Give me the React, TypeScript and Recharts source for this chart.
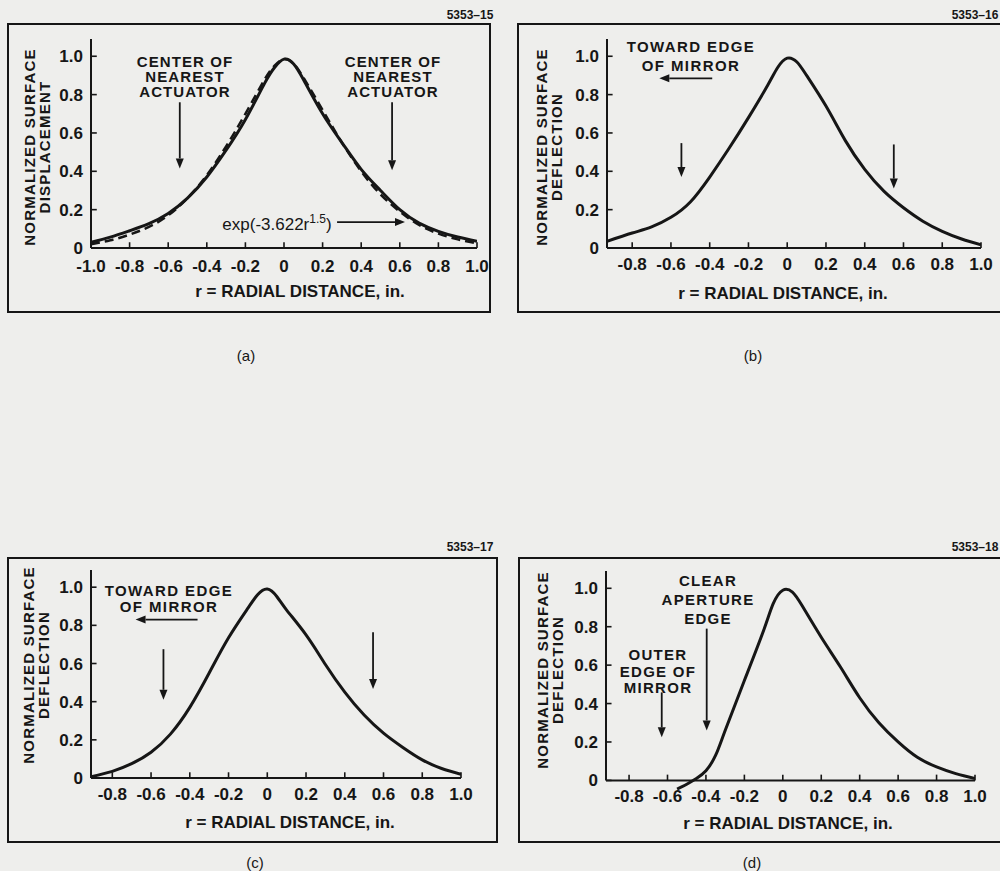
import React from 'react'
import { LineChart, Line, XAxis, YAxis, ReferenceLine } from 'recharts'

const FONT = '"Liberation Sans", Arial, Helvetica, sans-serif'
const INK = '#161616'
const PAPER = '#eeeeec'

// (a) measured influence function vs. exp(-3.622 r^1.5) fit
const rA = [-1.0, -0.9, -0.8, -0.7, -0.6, -0.5, -0.4, -0.3, -0.2, -0.1, -0.05, 0, 0.05, 0.1, 0.2, 0.3, 0.4, 0.5, 0.6, 0.7, 0.8, 0.9, 1.0]
const measuredA = [0.03, 0.057, 0.09, 0.127, 0.18, 0.26, 0.37, 0.51, 0.67, 0.86, 0.94, 0.985, 0.96, 0.88, 0.7, 0.55, 0.41, 0.3, 0.2, 0.13, 0.087, 0.057, 0.035]
const fitA = [0.02, 0.04, 0.07, 0.11, 0.17, 0.26, 0.38, 0.53, 0.7, 0.88, 0.95, 0.985, 0.96, 0.89, 0.72, 0.55, 0.4, 0.28, 0.19, 0.12, 0.075, 0.045, 0.025]

// (b)
const rB = [-0.93, -0.8, -0.7, -0.6, -0.5, -0.4, -0.3, -0.2, -0.1, -0.05, 0, 0.05, 0.1, 0.2, 0.3, 0.4, 0.5, 0.6, 0.7, 0.8, 0.9, 1.0]
const valsB = [0.035, 0.078, 0.11, 0.16, 0.24, 0.37, 0.52, 0.68, 0.85, 0.94, 0.99, 0.97, 0.9, 0.74, 0.56, 0.41, 0.295, 0.21, 0.14, 0.087, 0.047, 0.017]

// (c)
const rC = [-0.91, -0.8, -0.7, -0.6, -0.5, -0.4, -0.3, -0.2, -0.1, -0.05, 0, 0.05, 0.1, 0.2, 0.3, 0.4, 0.5, 0.6, 0.7, 0.8, 0.9, 1.0]
const valsC = [0.007, 0.035, 0.075, 0.135, 0.23, 0.37, 0.55, 0.735, 0.89, 0.96, 0.99, 0.95, 0.88, 0.75, 0.595, 0.45, 0.33, 0.235, 0.16, 0.095, 0.05, 0.02]

// (d)
const rD = [-0.55, -0.5, -0.45, -0.4, -0.35, -0.3, -0.2, -0.1, -0.05, 0, 0.05, 0.1, 0.2, 0.3, 0.4, 0.5, 0.6, 0.7, 0.8, 0.9, 1.0]
const valsD = [-0.045, -0.02, 0.01, 0.05, 0.13, 0.26, 0.52, 0.78, 0.92, 0.99, 0.98, 0.91, 0.745, 0.59, 0.43, 0.3, 0.2, 0.12, 0.07, 0.035, 0.01]

const xTicksFull = [-1.0, -0.8, -0.6, -0.4, -0.2, 0, 0.2, 0.4, 0.6, 0.8, 1.0]
const xTicksEdge = [-0.8, -0.6, -0.4, -0.2, 0, 0.2, 0.4, 0.6, 0.8, 1.0]
const yTicks = [0, 0.2, 0.4, 0.6, 0.8, 1.0]

const dataA = rA.map((r, i) => ({ r, m: measuredA[i], f: fitA[i] }))
const dataB = rB.map((r, i) => ({ r, m: valsB[i] }))
const dataC = rC.map((r, i) => ({ r, m: valsC[i] }))
const dataD = rD.map((r, i) => ({ r, m: valsD[i] }))

const fmt = (v: number) => (v === 0 ? '0' : v.toFixed(1))
const tickStyle = { fill: INK, fontSize: 17, fontWeight: 700, fontFamily: FONT }

type Pt = [number, number]

const ArrowShape = (p: any) => {
  const { x1, y1, x2, y2 } = p
  const ang = Math.atan2(y2 - y1, x2 - x1)
  const L = 10
  const W = 4
  const bx = x2 - L * Math.cos(ang)
  const by = y2 - L * Math.sin(ang)
  const nx = -Math.sin(ang) * W
  const ny = Math.cos(ang) * W
  return (
    <g>
      <line x1={x1} y1={y1} x2={bx} y2={by} stroke={INK} strokeWidth={1.8} />
      <polygon points={`${x2},${y2} ${bx + nx},${by + ny} ${bx - nx},${by - ny}`} fill={INK} />
    </g>
  )
}

function Panel({
  plot,
  xDomain,
  yDomain,
  xTicks,
  data,
  dashed,
  arrows,
  tickGap,
}: {
  plot: { x: number; y: number; w: number; h: number }
  xDomain: [number, number]
  yDomain: [number, number]
  xTicks: number[]
  data: any[]
  dashed?: boolean
  arrows: [Pt, Pt][]
  tickGap: number
}) {
  const yW = 45
  const mt = 10
  const mr = 25
  const xH = 40
  const x0 = xDomain[0]
  const tx = 0.03 * (xDomain[1] - xDomain[0]) / 2
  return (
    <div style={{ position: 'absolute', left: plot.x - yW, top: plot.y - mt }}>
      <LineChart
        width={plot.w + yW + mr}
        height={plot.h + mt + xH}
        data={data}
        margin={{ top: mt, right: mr, bottom: 0, left: 0 }}
      >
        <XAxis
          type="number"
          dataKey="r"
          domain={xDomain}
          ticks={xTicks}
          interval={0}
          allowDataOverflow
          axisLine={false}
          tickLine={false}
          tickSize={0}
          tickMargin={tickGap}
          height={xH}
          tick={tickStyle}
          tickFormatter={fmt}
        />
        <YAxis
          type="number"
          domain={yDomain}
          ticks={yTicks}
          interval={0}
          allowDataOverflow
          axisLine={false}
          tickLine={false}
          tickSize={0}
          tickMargin={8}
          width={yW}
          tick={tickStyle}
          tickFormatter={fmt}
        />
        <ReferenceLine segment={[{ x: x0, y: 0 }, { x: xDomain[1], y: 0 }]} stroke={INK} strokeWidth={2} />
        <ReferenceLine segment={[{ x: x0, y: 0 }, { x: x0, y: yDomain[1] }]} stroke={INK} strokeWidth={2} />
        {xTicks.map((t) => (
          <ReferenceLine key={'x' + t} segment={[{ x: t, y: 0 }, { x: t, y: 0.03 }]} stroke={INK} strokeWidth={1.6} />
        ))}
        {yTicks.map((t) => (
          <ReferenceLine key={'y' + t} segment={[{ x: x0, y: t }, { x: x0 + tx, y: t }]} stroke={INK} strokeWidth={1.6} />
        ))}
        {arrows.map((a, i) => (
          <ReferenceLine
            key={'a' + i}
            segment={[{ x: a[0][0], y: a[0][1] }, { x: a[1][0], y: a[1][1] }]}
            shape={(p: any) => <ArrowShape {...p} />}
          />
        ))}
        {dashed && (
          <Line
            type="natural"
            dataKey="f"
            stroke={INK}
            strokeWidth={2.5}
            strokeDasharray="9 5"
            dot={false}
            isAnimationActive={false}
          />
        )}
        <Line type="natural" dataKey="m" stroke={INK} strokeWidth={3} dot={false} isAnimationActive={false} />
      </LineChart>
    </div>
  )
}

function Txt({
  x,
  y,
  size = 15,
  bold = true,
  rot = false,
  lh,
  ls = 0,
  children,
}: {
  x: number
  y: number
  size?: number
  bold?: boolean
  rot?: boolean
  lh?: number
  ls?: number
  children: React.ReactNode
}) {
  return (
    <div
      style={{
        position: 'absolute',
        left: x,
        top: y,
        transform: `translate(-50%, -50%)${rot ? ' rotate(-90deg)' : ''}`,
        fontSize: size,
        fontWeight: bold ? 700 : 400,
        fontFamily: FONT,
        color: INK,
        whiteSpace: 'nowrap',
        textAlign: 'center',
        letterSpacing: ls,
        lineHeight: lh ? `${lh}px` : 1,
      }}
    >
      {children}
    </div>
  )
}

function Frame({ x, y, w, h }: { x: number; y: number; w: number; h: number }) {
  return (
    <div
      style={{
        position: 'absolute',
        left: x,
        top: y,
        width: w,
        height: h,
        border: `2px solid ${INK}`,
        boxSizing: 'border-box',
      }}
    />
  )
}

const YLabel = ({ x, y, second }: { x: number; y: number; second: string }) => (
  <Txt x={x} y={y} size={15} rot lh={15} ls={1.2}>
    NORMALIZED SURFACE
    <br />
    {second}
  </Txt>
)

export default function App() {
  return (
    <div style={{ position: 'absolute', left: 0, top: 0, width: 1000, height: 871, background: PAPER, overflow: 'hidden' }}>
      {/* (a) */}
      <Frame x={7} y={23} w={484} h={290} />
      <Txt x={470} y={15} size={12}>5353–15</Txt>
      <Panel
        plot={{ x: 91, y: 39, w: 386, h: 209 }}
        xDomain={[-1, 1]}
        yDomain={[0, 1.09]}
        xTicks={xTicksFull}
        data={dataA}
        dashed
        tickGap={12}
        arrows={[
          [[-0.54, 0.76], [-0.54, 0.415]],
          [[0.56, 0.76], [0.56, 0.405]],
          [[0.275, 0.135], [0.627, 0.135]],
        ]}
      />
      <YLabel x={37} y={147} second="DISPLACEMENT" />
      <Txt x={185} y={76} lh={15} ls={1.1}>CENTER OF<br />NEAREST<br />ACTUATOR</Txt>
      <Txt x={393} y={76} lh={15} ls={1.1}>CENTER OF<br />NEAREST<br />ACTUATOR</Txt>
      <Txt x={277} y={223} size={17} bold={false}>
        exp(-3.622r<sup style={{ fontSize: 12, verticalAlign: 7 }}>1.5</sup>)
      </Txt>
      <Txt x={300} y={291} size={17}>r = RADIAL DISTANCE, in.</Txt>
      <Txt x={246} y={355} size={15} bold={false}>(a)</Txt>

      {/* (b) */}
      <Frame x={517} y={23} w={490} h={290} />
      <Txt x={975} y={15} size={12}>5353–16</Txt>
      <Panel
        plot={{ x: 607, y: 39, w: 374, h: 209 }}
        xDomain={[-0.93, 1]}
        yDomain={[0, 1.09]}
        xTicks={xTicksEdge}
        data={dataB}
        tickGap={10}
        arrows={[
          [[-0.546, 0.547], [-0.546, 0.37]],
          [[0.55, 0.54], [0.55, 0.31]],
          [[-0.387, 0.885], [-0.66, 0.885]],
        ]}
      />
      <YLabel x={549} y={147} second="DEFLECTION" />
      <Txt x={691} y={56} lh={19} ls={1.4}>TOWARD EDGE<br />OF MIRROR</Txt>
      <Txt x={783} y={293} size={17}>r = RADIAL DISTANCE, in.</Txt>
      <Txt x={753} y={355} size={15} bold={false}>(b)</Txt>

      {/* (c) */}
      <Frame x={7} y={557} w={491} h={286} />
      <Txt x={470} y={547} size={12}>5353–17</Txt>
      <Panel
        plot={{ x: 91, y: 570, w: 370, h: 208 }}
        xDomain={[-0.91, 1]}
        yDomain={[0, 1.09]}
        xTicks={xTicksEdge}
        data={dataC}
        tickGap={10}
        arrows={[
          [[-0.536, 0.675], [-0.536, 0.41]],
          [[0.546, 0.764], [0.546, 0.466]],
          [[-0.36, 0.83], [-0.68, 0.83]],
        ]}
      />
      <YLabel x={35.5} y={665} second="DEFLECTION" />
      <Txt x={169} y={599} lh={16} ls={1.4}>TOWARD EDGE<br />OF MIRROR</Txt>
      <Txt x={290} y={822} size={17}>r = RADIAL DISTANCE, in.</Txt>
      <Txt x={255} y={862} size={15} bold={false}>(c)</Txt>

      {/* (d) */}
      <Frame x={518} y={557} w={490} h={286} />
      <Txt x={975} y={547} size={12}>5353–18</Txt>
      <Panel
        plot={{ x: 606, y: 571, w: 369, h: 219 }}
        xDomain={[-0.92, 1]}
        yDomain={[-0.05, 1.09]}
        xTicks={xTicksEdge}
        data={dataD}
        tickGap={0}
        arrows={[
          [[-0.396, 0.79], [-0.396, 0.26]],
          [[-0.63, 0.458], [-0.63, 0.224]],
        ]}
      />
      <YLabel x={550} y={670} second="DEFLECTION" />
      <Txt x={708} y={599} lh={19} ls={1.3}>CLEAR<br />APERTURE<br />EDGE</Txt>
      <Txt x={658} y={672} lh={16.5} ls={1.3}>OUTER<br />EDGE OF<br />MIRROR</Txt>
      <Txt x={788} y={823} size={17}>r = RADIAL DISTANCE, in.</Txt>
      <Txt x={752} y={862} size={15} bold={false}>(d)</Txt>
    </div>
  )
}
